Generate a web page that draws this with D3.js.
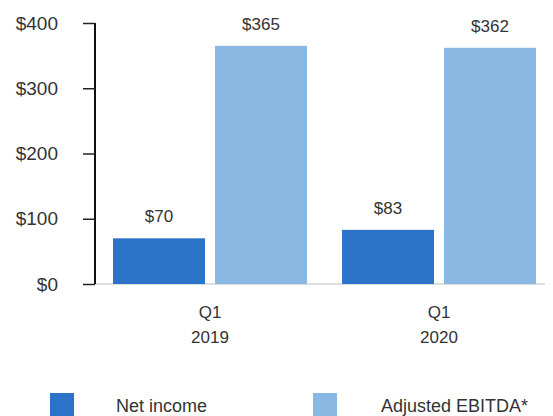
<!DOCTYPE html>
<html>
<head>
<meta charset="utf-8">
<script src="https://cdn.jsdelivr.net/npm/d3@7/dist/d3.min.js"></script>
<style>
  html, body { margin: 0; padding: 0; background: #fff; }
  svg { display: block; font-family: "Liberation Sans", Arial, Helvetica, sans-serif; }
</style>
</head>
<body>
<svg id="chart" width="553" height="416"></svg>
<script>
// Quarterly results, $ millions
const periods = ["Q1 2019", "Q1 2020"];
const periodLines = [["Q1", "2019"], ["Q1", "2020"]];
const seriesNames = ["Net income", "Adjusted EBITDA*"];
const netIncome = [70, 83];
const adjustedEbitda = [365, 362];
const yTicks = [0, 100, 200, 300, 400];

const colors = ["#2b73c9", "#89b8e3"];
const textColor = "#333";

const rows = periods.map((p, i) => ({
  period: p,
  lines: periodLines[i],
  values: [netIncome[i], adjustedEbitda[i]]
}));

const svg = d3.select("#chart");

const x0 = d3.scaleBand()
  .domain(periods)
  .range([95.5, 553.5])
  .paddingInner(0.153)
  .paddingOuter(0.0765);

const x1 = d3.scaleBand()
  .domain(seriesNames)
  .range([0, x0.bandwidth()])
  .paddingInner(0.098)
  .paddingOuter(0);

const y = d3.scaleLinear().domain([0, 400]).range([284, 23]);

// baseline
svg.append("line")
  .attr("x1", 95).attr("x2", 545)
  .attr("y1", y(0)).attr("y2", y(0))
  .attr("stroke", "#bdbdbd").attr("stroke-width", 1);

// bars
const groups = svg.selectAll("g.group")
  .data(rows)
  .join("g")
  .attr("class", "group")
  .attr("transform", d => `translate(${x0(d.period)},0)`);

groups.selectAll("rect")
  .data(d => d.values.map((v, i) => ({ key: seriesNames[i], value: v, i })))
  .join("rect")
  .attr("x", d => x1(d.key))
  .attr("width", x1.bandwidth())
  .attr("y", d => y(d.value))
  .attr("height", d => y(0) - y(d.value))
  .attr("fill", d => colors[d.i]);

groups.selectAll("text.value")
  .data(d => d.values.map((v, i) => ({ key: seriesNames[i], value: v })))
  .join("text")
  .attr("class", "value")
  .attr("x", d => x1(d.key) + x1.bandwidth() / 2)
  .attr("y", d => y(d.value) - 16)
  .attr("text-anchor", "middle")
  .attr("font-size", 17)
  .attr("fill", textColor)
  .text(d => "$" + d.value);

// y axis
const yAxis = d3.axisLeft(y)
  .tickValues(yTicks)
  .tickSize(12)
  .tickPadding(25)
  .tickFormat(d => "$" + d);

const gy = svg.append("g")
  .attr("transform", "translate(95,0)")
  .call(yAxis);
gy.select(".domain")
  .attr("d", `M0,${y(400)}V${y(0)}`)
  .attr("stroke", "#111").attr("stroke-width", 2);
gy.selectAll(".tick line").attr("stroke", "#222").attr("stroke-width", 1.5);
gy.selectAll(".tick text")
  .attr("font-size", 19)
  .attr("font-family", "Liberation Sans, Arial, sans-serif")
  .attr("fill", textColor);

// x labels
const xl = svg.selectAll("text.period")
  .data(rows)
  .join("text")
  .attr("class", "period")
  .attr("text-anchor", "middle")
  .attr("font-size", 17)
  .attr("fill", textColor)
  .attr("x", d => x0(d.period) + x0.bandwidth() / 2);
xl.selectAll("tspan")
  .data(d => d.lines)
  .join("tspan")
  .attr("x", function () { return d3.select(this.parentNode).attr("x"); })
  .attr("y", (d, i) => 318 + i * 25)
  .text(d => d);

// legend
const legendX = [50, 313];
const legend = svg.selectAll("g.legend")
  .data(seriesNames)
  .join("g")
  .attr("class", "legend")
  .attr("transform", (d, i) => `translate(${legendX[i]},393)`);
legend.append("rect")
  .attr("width", 24).attr("height", 23)
  .attr("fill", (d, i) => colors[i]);
legend.append("text")
  .attr("x", (d, i) => i === 0 ? 66 : 68)
  .attr("y", 18.5)
  .attr("font-size", 18)
  .attr("fill", textColor)
  .text(d => d);
</script>
</body>
</html>
